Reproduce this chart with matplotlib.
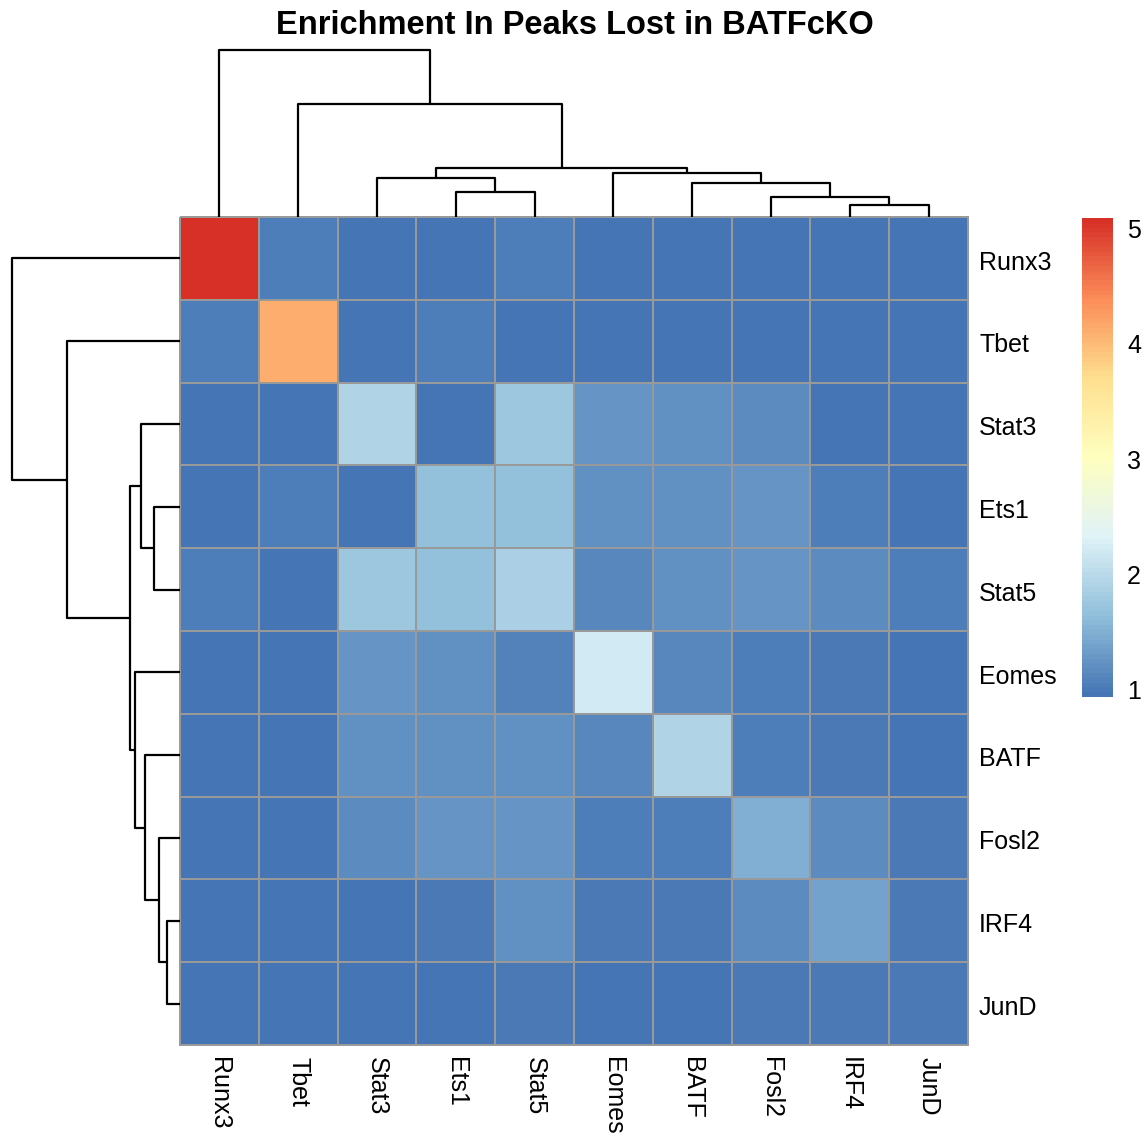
import numpy as np
import matplotlib
matplotlib.use("Agg")
import matplotlib.pyplot as plt
from matplotlib.colors import LinearSegmentedColormap

plt.rcParams['font.family'] = ['Liberation Sans', 'DejaVu Sans']

# ---- data -------------------------------------------------------------
title = "Enrichment In Peaks Lost in BATFcKO"
labels = ["Runx3", "Tbet", "Stat3", "Ets1", "Stat5",
          "Eomes", "BATF", "Fosl2", "IRF4", "JunD"]

values = np.array([
    [5.11, 1.06, 0.96, 1.00, 1.05, 1.00, 1.00, 1.00, 1.00, 1.00],
    [1.06, 4.14, 0.98, 1.05, 1.00, 0.98, 0.98, 0.98, 0.99, 1.00],
    [0.98, 0.98, 1.92, 1.00, 1.75, 1.28, 1.25, 1.18, 1.00, 1.00],
    [1.00, 1.05, 1.00, 1.70, 1.70, 1.25, 1.25, 1.28, 1.05, 1.00],
    [1.05, 1.00, 1.75, 1.70, 1.88, 1.13, 1.25, 1.28, 1.20, 1.05],
    [1.00, 1.00, 1.28, 1.25, 1.12, 2.24, 1.15, 1.05, 1.03, 0.99],
    [0.99, 0.99, 1.25, 1.25, 1.25, 1.15, 1.95, 1.05, 1.03, 0.99],
    [0.99, 1.00, 1.18, 1.28, 1.28, 1.05, 1.05, 1.51, 1.20, 1.04],
    [1.00, 1.00, 1.00, 1.03, 1.22, 1.03, 1.03, 1.20, 1.39, 1.03],
    [1.00, 1.00, 1.00, 0.99, 1.03, 0.99, 0.99, 1.03, 1.03, 1.04],
])

# hierarchical merges (child a, child b, height); leaves 0..9 in display order
col_merges = [(8, 9, 0.32), (7, 10, 0.54), (3, 4, 0.68), (6, 11, 0.92),
              (2, 12, 1.05), (5, 13, 1.19), (14, 15, 1.32), (1, 16, 3.05),
              (0, 17, 4.51)]
row_merges = [(8, 9, 0.34), (7, 10, 0.57), (3, 4, 0.70), (6, 11, 0.94),
              (2, 12, 1.06), (5, 13, 1.21), (14, 15, 1.35), (1, 16, 3.05),
              (0, 17, 4.53)]

legend_ticks = [1, 2, 3, 4, 5]

# ---- style ------------------------------------------------------------
palette = ["#4575B4", "#91BFDB", "#E0F3F8", "#FFFFBF",
           "#FEE090", "#FC8D59", "#D73027"]
cmap = LinearSegmentedColormap.from_list("rdylbu_r", palette, N=100)
vmin, vmax = values.min(), values.max()
grid_col = "#999999"

W, H = 1146, 1136
fig = plt.figure(figsize=(W / 100, H / 100), dpi=100)


def px_axes(x0, y0, x1, y1):
    return fig.add_axes([x0 / W, 1 - y1 / H, (x1 - x0) / W, (y1 - y0) / H])


def dendro_segments(merges, n):
    pos = {i: i + 0.5 for i in range(n)}
    hgt = {i: 0.0 for i in range(n)}
    segs = []
    for k, (a, b, h) in enumerate(merges):
        xa, xb = pos[a], pos[b]
        segs.append(([xa, xa, xb, xb], [hgt[a], h, h, hgt[b]]))
        pos[n + k] = (xa + xb) / 2
        hgt[n + k] = h
    return segs


n = len(labels)

# heatmap
ax = px_axes(180, 217, 968, 1045)
mesh = ax.pcolormesh(np.arange(n + 1), np.arange(n + 1), values, cmap=cmap,
                     vmin=vmin, vmax=vmax, edgecolors=grid_col, linewidth=1.4)
mesh.set_clip_on(False)
ax.set_xlim(0, n)
ax.set_ylim(n, 0)
ax.axis("off")
for i, lab in enumerate(labels):
    ax.text(n + 0.14, i + 0.55, lab, ha="left", va="center", fontsize=18)
    ax.text(i + 0.5, n + 0.14, lab, ha="center", va="top", rotation=270,
            fontsize=18)

# column dendrogram
axt = px_axes(180, 50, 968, 217)
for xs, ys in dendro_segments(col_merges, n):
    axt.plot(xs, ys, color="black", lw=1.6, solid_capstyle="butt", clip_on=False)
axt.set_xlim(0, n)
axt.set_ylim(0, col_merges[-1][2])
axt.axis("off")

# row dendrogram
axl = px_axes(12, 217, 180, 1045)
for ys, xs in dendro_segments(row_merges, n):
    axl.plot(xs, ys, color="black", lw=1.6, solid_capstyle="butt", clip_on=False)
axl.set_xlim(row_merges[-1][2], 0)
axl.set_ylim(n, 0)
axl.axis("off")

# colour legend
axc = px_axes(1082, 218, 1113, 697)
grad = np.linspace(vmin, vmax, 100).reshape(-1, 1)
axc.imshow(grad, cmap=cmap, vmin=vmin, vmax=vmax, aspect="auto",
           origin="lower", extent=[0, 1, vmin, vmax])
axc.set_xlim(0, 1)
axc.set_ylim(vmin, vmax)
axc.axis("off")
for t in legend_ticks:
    axc.text(1.45, t, str(t), ha="left", va="center", fontsize=18)

fig.text(575 / W, 1 - 26 / H, title, ha="center", va="center",
         fontsize=23.5, fontweight="bold")

fig.savefig("out.png", dpi=100)
